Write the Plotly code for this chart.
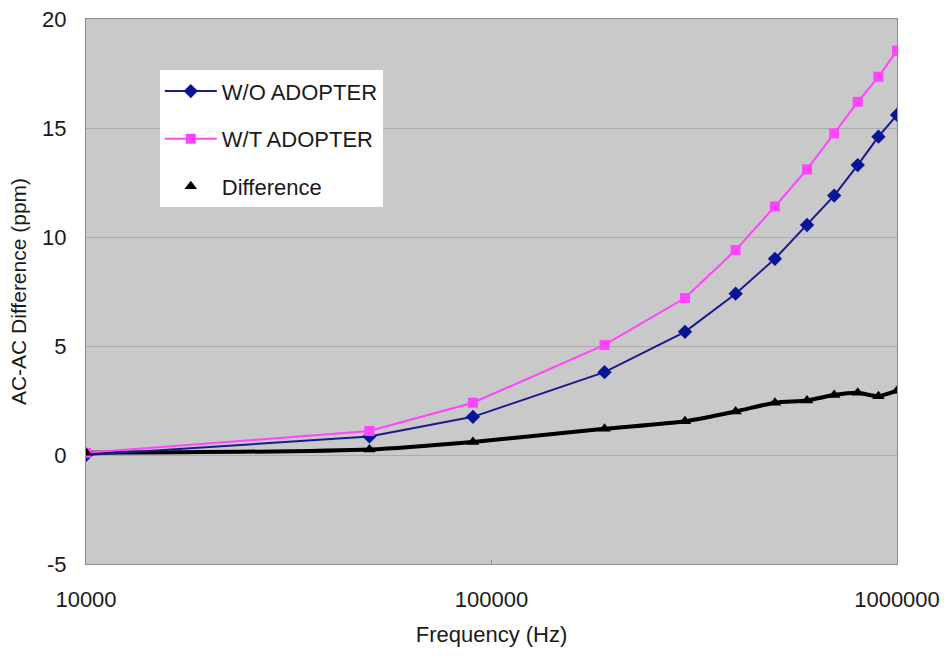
import plotly.graph_objects as go

freq = [10000, 50000, 90000, 190000, 300000, 400000, 500000, 600000, 700000, 800000, 900000, 1000000]
wo_adopter = [0.0, 0.85, 1.75, 3.8, 5.65, 7.4, 9.0, 10.55, 11.9, 13.3, 14.6, 15.6]
wt_adopter = [0.1, 1.1, 2.4, 5.05, 7.2, 9.4, 11.4, 13.1, 14.75, 16.2, 17.35, 18.55]
difference = [0.1, 0.25, 0.6, 1.2, 1.55, 2.0, 2.4, 2.5, 2.75, 2.85, 2.7, 2.95]

x_ticks = [10000, 100000, 1000000]
x_ticktext = ["10000", "100000", "1000000"]
y_ticks = [-5, 0, 5, 10, 15, 20]
y_ticktext = ["-5", "0", "5", "10", "15", "20"]

FONT = "Liberation Sans, Arial, sans-serif"
TXT = "#1a1a1a"

fig = go.Figure()

# smooth trend line for the difference (no legend entry)
fig.add_trace(go.Scatter(
    x=freq, y=difference, mode="lines",
    line=dict(color="black", width=4, shape="spline", smoothing=0.7),
    showlegend=False, hoverinfo="skip"))

fig.add_trace(go.Scatter(
    x=freq, y=wo_adopter, mode="lines+markers", name="W/O ADOPTER",
    line=dict(color="#1a1a8a", width=2),
    marker=dict(symbol="diamond", size=11, color="#0a1496"),
    legendgroup="a"))

fig.add_trace(go.Scatter(
    x=freq, y=wt_adopter, mode="lines+markers", name="W/T ADOPTER",
    line=dict(color="#ff44ff", width=2),
    marker=dict(symbol="square", size=10, color="#ff44ff"),
    legendgroup="b"))

fig.add_trace(go.Scatter(
    x=freq, y=difference, mode="markers", name="Difference",
    marker=dict(symbol="triangle-up", size=11, color="black"),
    legendgroup="c"))

fig.update_layout(
    width=944, height=657,
    margin=dict(l=86, r=47, t=19, b=93),
    paper_bgcolor="white",
    plot_bgcolor="#c9c9c9",
    font=dict(family=FONT, size=22, color=TXT),
    legend=dict(
        x=0.091, y=0.906, xanchor="left", yanchor="top",
        bgcolor="white", borderwidth=0,
        font=dict(family=FONT, size=22, color=TXT),
        traceorder="grouped", tracegroupgap=16,
        itemwidth=52),
    xaxis=dict(
        type="log", range=[4, 6],
        tickvals=x_ticks, ticktext=x_ticktext,
        showgrid=False, zeroline=False, automargin=False,
        showline=True, linecolor="#8c8c8c", linewidth=1, mirror=True,
        ticks="inside", ticklen=4, tickcolor="#8c8c8c",
        ticklabelstandoff=16,
        title=dict(text="Frequency (Hz)", font=dict(family=FONT, size=22), standoff=15)),
    yaxis=dict(
        range=[-5, 20], tickvals=y_ticks, ticktext=y_ticktext,
        showgrid=True, gridcolor="#ababab", gridwidth=1,
        zeroline=False, automargin=False,
        showline=True, linecolor="#8c8c8c", linewidth=1, mirror=True,
        ticks="", ticklabelstandoff=14,
        title=dict(text="AC-AC Difference (ppm)", font=dict(family=FONT, size=21), standoff=9)),
)

fig.write_html("out.html")
